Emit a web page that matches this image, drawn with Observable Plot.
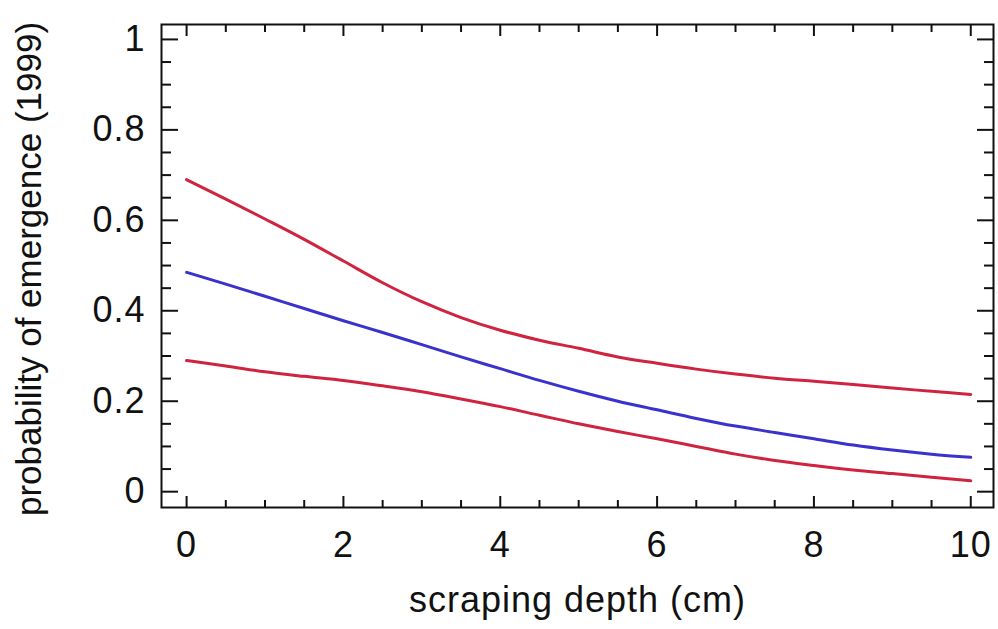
<!DOCTYPE html>
<html>
<head>
<meta charset="utf-8">
<script src="https://cdn.jsdelivr.net/npm/d3@7"></script>
<script src="https://cdn.jsdelivr.net/npm/@observablehq/plot@0.6"></script>
<style>
  html, body { margin: 0; padding: 0; background: #fff; }
  svg { display: block; }
  .xtitle text { letter-spacing: 1px; }
  .ticklabels text { letter-spacing: 1px; }
</style>
</head>
<body>
<div id="chart"></div>
<script>
// Data
const depth = [0,0.5,1,1.5,2,2.5,3,3.5,4,4.5,5,5.5,6,6.5,7,7.5,8,8.5,9,9.5,10];
const upperCI = [0.690,0.647,0.603,0.558,0.510,0.462,0.420,0.385,0.357,0.335,0.317,0.298,0.284,0.271,0.260,0.251,0.244,0.237,0.229,0.222,0.215];
const estimate = [0.485,0.459,0.432,0.405,0.378,0.352,0.325,0.298,0.272,0.246,0.222,0.200,0.181,0.162,0.145,0.131,0.117,0.103,0.092,0.083,0.076];
const lowerCI = [0.290,0.278,0.265,0.255,0.246,0.234,0.221,0.205,0.188,0.169,0.150,0.133,0.117,0.100,0.083,0.069,0.058,0.048,0.040,0.032,0.024];

const xTicks = [0,2,4,6,8,10];
const xMinor = [0.5,1,1.5,2.5,3,3.5,4.5,5,5.5,6.5,7,7.5,8.5,9,9.5];
const yTicks = [0,0.2,0.4,0.6,0.8,1];
const yTickLabels = ["0","0.2","0.4","0.6","0.8","1"];
const yMinor = [0.05,0.1,0.15,0.25,0.3,0.35,0.45,0.5,0.55,0.65,0.7,0.75,0.85,0.9,0.95];

const xTitle = "scraping depth (cm)";
const yTitle = "probability of emergence (1999)";

const red = "#d0233f";
const blue = "#3a32cc";

const series = (ys) => depth.map((d, i) => ({x: d, y: ys[i]}));

const font = "'Liberation Sans', Arial, Helvetica, sans-serif";

const chart = Plot.plot({
  width: 998,
  height: 629,
  marginLeft: 161,
  marginRight: 5,
  marginTop: 24,
  marginBottom: 122,
  style: {fontFamily: font, background: "#fff", color: "#111"},
  x: {domain: [-0.32, 10.29]},
  y: {domain: [-0.035, 1.033]},
  marks: [
    // inward ticks
    Plot.axisX({anchor: "bottom", ticks: xTicks, tickSize: -11, text: null, label: null, strokeWidth: 2}),
    Plot.axisX({anchor: "bottom", ticks: xMinor, tickSize: -7, text: null, label: null, strokeWidth: 2}),
    Plot.axisX({anchor: "top", ticks: xTicks, tickSize: -11, text: null, label: null, strokeWidth: 2}),
    Plot.axisX({anchor: "top", ticks: xMinor, tickSize: -7, text: null, label: null, strokeWidth: 2}),
    Plot.axisY({anchor: "left", ticks: yTicks, tickSize: -17, text: null, label: null, strokeWidth: 2}),
    Plot.axisY({anchor: "left", ticks: yMinor, tickSize: -10, text: null, label: null, strokeWidth: 2}),
    Plot.axisY({anchor: "right", ticks: yTicks, tickSize: -17, text: null, label: null, strokeWidth: 2}),
    Plot.axisY({anchor: "right", ticks: yMinor, tickSize: -10, text: null, label: null, strokeWidth: 2}),
    // tick labels
    Plot.axisX({anchor: "bottom", ticks: xTicks, tickSize: 0, tickPadding: 24, fontSize: 36, label: null, className: "ticklabels", tickFormat: d => String(d)}),
    Plot.axisY({anchor: "left", ticks: yTicks, tickSize: 0, tickPadding: 16, fontSize: 36, label: null, className: "ticklabels", tickFormat: (d, i) => yTickLabels[i]}),
    // titles
    Plot.text([xTitle], {frameAnchor: "bottom", dy: 93, fontSize: 36, lineAnchor: "middle", textAnchor: "middle", className: "xtitle", text: d => d}),
    Plot.text([yTitle], {frameAnchor: "left", dx: -132, dy: 3, rotate: -90, fontSize: 35, lineAnchor: "middle", textAnchor: "middle", text: d => d}),
    // curves
    Plot.line(series(upperCI), {x: "x", y: "y", stroke: red, strokeWidth: 3, curve: "monotone-x"}),
    Plot.line(series(estimate), {x: "x", y: "y", stroke: blue, strokeWidth: 3, curve: "monotone-x"}),
    Plot.line(series(lowerCI), {x: "x", y: "y", stroke: red, strokeWidth: 3, curve: "monotone-x"}),
    Plot.frame({stroke: "#111", strokeWidth: 2})
  ]
});
document.getElementById("chart").appendChild(chart);
</script>
</body>
</html>
